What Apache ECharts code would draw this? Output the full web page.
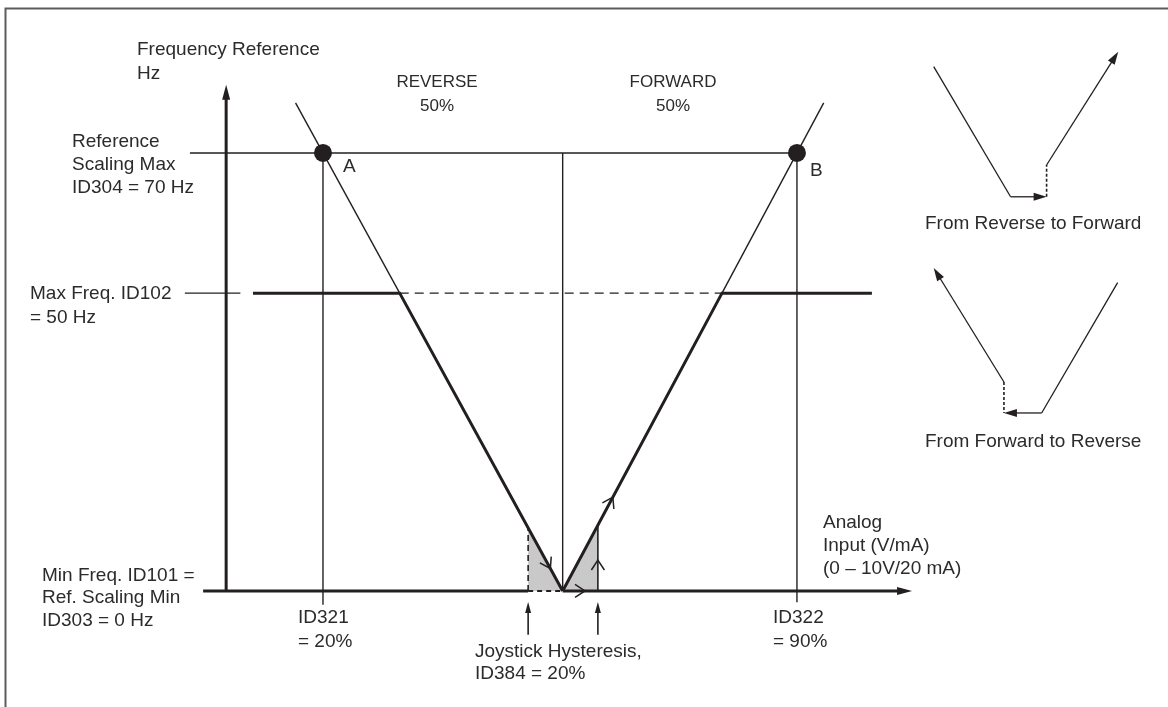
<!DOCTYPE html>
<html><head><meta charset="utf-8">
<script src="https://cdn.jsdelivr.net/npm/echarts@6/dist/echarts.min.js"></script>
<style>html,body{margin:0;padding:0;background:#fff}#c{width:1168px;height:707px}</style>
</head><body><div id="c"></div>
<script>
// ---------- data (schematic units: x = analog input %, y = frequency reference Hz) ----------
const pointsAB = [[20, 70], [90, 70]];            // A (ID321 = 20%), B (ID322 = 90%) at Ref. Scaling Max
const refScalingMaxLine = [[0.35, 70], [90, 70]];
const maxFreqTick = [[-0.4, 47.6], [7.8, 47.6]];
const curveLeft = [[9.66, 47.6], [31.33, 47.6], [55.4, 0]];      // operating curve, reverse side
const curveRight = [[55.4, 0], [78.93, 47.6], [101.07, 47.6]];   // operating curve, forward side
const leftThin = [[15.95, 78], [31.33, 47.6]];
const rightThin = [[78.93, 47.6], [93.95, 78]];
const maxFreqDashed = [[31.33, 47.6], [78.93, 47.6]];
const id321Line = [[20, 70], [20, -2.2]];
const id322Line = [[90, 70], [90, -1.8]];
const centerLine = [[55.4, 70], [55.4, 0]];
const xAxisLeft = [[2.3, 0], [50.3, 0]];
const xAxisHystDashed = [[50.3, 0], [55.4, 0]];
const hystLowDashed = [[50.3, 0], [50.3, 10.08]];
const hystHighLine = [[60.6, 0], [60.6, 10.52]];
const hystShade = [[50.3, 0, 50.3, 10.08, 55.4, 0], [55.4, 0, 60.6, 10.52, 60.6, 0]];
const axisArrows = [[5.7, 0, 5.7, 80.9], [55.4, 0, 107, 0]];
const hystArrows = [[50.3, -7.0, 50.3, -1.76], [60.6, -7.0, 60.6, -1.76]];
const chevrons = [[53.58, 3.6, 50.3, 10.08], [58.7, 0, 55.4, 0], [60.6, 4.95, 60.6, 0], [62.81, 15.0, 55.4, 0]];
// insets
const inset1Path = [[110.2, 83.8], [121.55, 63.0]];
const inset1Dashed = [[126.87, 63.0], [126.87, 68.08]];
const inset1Arrows = [[121.55, 63.0, 126.87, 63.0], [126.87, 68.08, 137.45, 86.19]];
const inset2Path = [[137.36, 49.27], [126.14, 28.45]];
const inset2Dashed = [[120.57, 33.40], [120.57, 28.45]];
const inset2Arrows = [[126.14, 28.45, 120.57, 28.45], [120.57, 33.40, 110.2, 51.62]];

// ---------- styling / rendering ----------
const C = '#231f20';
const TC = '#2b2b2b';
const FONT = "'Liberation Sans', Arial, sans-serif";

function lineSeries(points, width, dash, z) {
  return { type: 'line', data: points, showSymbol: false, symbol: 'none', clip: false, silent: true,
    animation: false, z: z || 3, lineStyle: { color: C, width: width, type: dash || 'solid', cap: 'butt', join: 'miter' } };
}
function arrowSeries(items, lw, len, w) {
  return { type: 'custom', data: items, clip: false, silent: true, animation: false, z: 4,
    renderItem: function (params, api) {
      const a = api.coord([api.value(0), api.value(1)]);
      const b = api.coord([api.value(2), api.value(3)]);
      const dx = b[0] - a[0], dy = b[1] - a[1], L = Math.hypot(dx, dy), ux = dx / L, uy = dy / L;
      const sx = b[0] - ux * len * 0.7, sy = b[1] - uy * len * 0.7;
      const hx = b[0] - ux * len, hy = b[1] - uy * len;
      return { type: 'group', children: [
        { type: 'line', shape: { x1: a[0], y1: a[1], x2: sx, y2: sy }, style: { stroke: C, lineWidth: lw } },
        { type: 'polygon', shape: { points: [[b[0], b[1]], [hx - uy * w / 2, hy + ux * w / 2], [hx + uy * w / 2, hy - ux * w / 2]] }, style: { fill: C } }
      ] };
    } };
}
function chevronSeries(items, len, w) {
  return { type: 'custom', data: items, clip: false, silent: true, animation: false, z: 5,
    renderItem: function (params, api) {
      const t = api.coord([api.value(0), api.value(1)]);
      const f = api.coord([api.value(2), api.value(3)]);
      const dx = t[0] - f[0], dy = t[1] - f[1], L = Math.hypot(dx, dy), ux = dx / L, uy = dy / L;
      const hx = t[0] - ux * len, hy = t[1] - uy * len;
      return { type: 'polyline', shape: { points: [[hx - uy * w / 2, hy + ux * w / 2], [t[0], t[1]], [hx + uy * w / 2, hy - ux * w / 2]] },
        style: { stroke: C, lineWidth: 1.5, fill: null } };
    } };
}
const shadeSeries = { type: 'custom', data: hystShade, clip: false, silent: true, animation: false, z: 1,
  renderItem: function (params, api) {
    const pts = [0, 2, 4].map(i => api.coord([api.value(i), api.value(i + 1)]));
    return { type: 'polygon', shape: { points: pts }, style: { fill: '#c9c9c9' } };
  } };

function txt(text, x, y, opts) {
  opts = opts || {};
  return { type: 'text', x: x, y: y, silent: true, z: 10,
    style: { text: text, fill: TC, font: (opts.size || 19) + 'px ' + FONT, align: opts.align || 'left',
      verticalAlign: 'top', lineHeight: opts.lh || 23.5 } };
}

const chart = echarts.init(document.getElementById('c'), null, { renderer: 'canvas' });
chart.setOption({
  animation: false,
  backgroundColor: '#fff',
  grid: { left: 0, right: 0, top: 0, bottom: 0 },
  xAxis: { type: 'value', min: -27.7, max: 144.8, show: false },
  yAxis: { type: 'value', min: -18.54, max: 94.45, show: false },
  series: [
    shadeSeries,
    lineSeries(refScalingMaxLine, 1.4),
    lineSeries(maxFreqTick, 1.4),
    lineSeries(leftThin, 1.4),
    lineSeries(rightThin, 1.4),
    lineSeries(id321Line, 1.4),
    lineSeries(id322Line, 1.4),
    lineSeries(centerLine, 1.4),
    lineSeries(maxFreqDashed, 1.4, [9, 6]),
    lineSeries(hystLowDashed, 1.6, [6, 4]),
    lineSeries(hystHighLine, 1.6),
    lineSeries(xAxisHystDashed, 2, [5, 4]),
    lineSeries(xAxisLeft, 3),
    lineSeries(curveLeft, 3),
    lineSeries(curveRight, 3),
    arrowSeries(axisArrows, 3, 15, 8),
    arrowSeries(hystArrows, 1.6, 11, 6),
    chevronSeries(chevrons, 10, 13),
    lineSeries(inset1Path, 1.3),
    lineSeries(inset1Dashed, 1.6, [3, 2]),
    arrowSeries(inset1Arrows, 1.3, 13, 8),
    lineSeries(inset2Path, 1.3),
    lineSeries(inset2Dashed, 1.6, [3, 2]),
    arrowSeries(inset2Arrows, 1.3, 13, 8),
    { type: 'scatter', data: pointsAB, symbol: 'circle', symbolSize: 18, clip: false, silent: true, animation: false, z: 6,
      itemStyle: { color: C, opacity: 1 } }
  ],
  graphic: [
    { type: 'polyline', silent: true, shape: { points: [[5.5, 707], [5.5, 8.5], [1168, 8.5]] }, style: { stroke: '#5c5c5c', lineWidth: 2, fill: null } },
    txt('Frequency Reference\nHz', 137, 38.5),
    txt('Reference\nScaling Max\nID304 = 70 Hz', 72, 130.5, { lh: 23 }),
    txt('A', 343, 155.5),
    txt('B', 810, 159.5),
    txt('REVERSE\n50%', 437, 70, { size: 17, align: 'center', lh: 24 }),
    txt('FORWARD\n50%', 673, 70, { size: 17, align: 'center', lh: 24 }),
    txt('Max Freq. ID102\n= 50 Hz', 30, 282, { lh: 24 }),
    txt('Min Freq. ID101 =\nRef. Scaling Min\nID303 = 0 Hz', 42, 564.5, { lh: 22.5 }),
    txt('ID321\n= 20%', 298, 606, { lh: 24 }),
    txt('ID322\n= 90%', 773, 606, { lh: 24 }),
    txt('Joystick Hysteresis,\nID384 = 20%', 475, 640.5, { lh: 22 }),
    txt('Analog\nInput (V/mA)\n(0 \u2013 10V/20 mA)', 823, 511.5, { lh: 23 }),
    txt('From Reverse to Forward', 925, 212.5),
    txt('From Forward to Reverse', 925, 430.5)
  ]
});
</script></body></html>
